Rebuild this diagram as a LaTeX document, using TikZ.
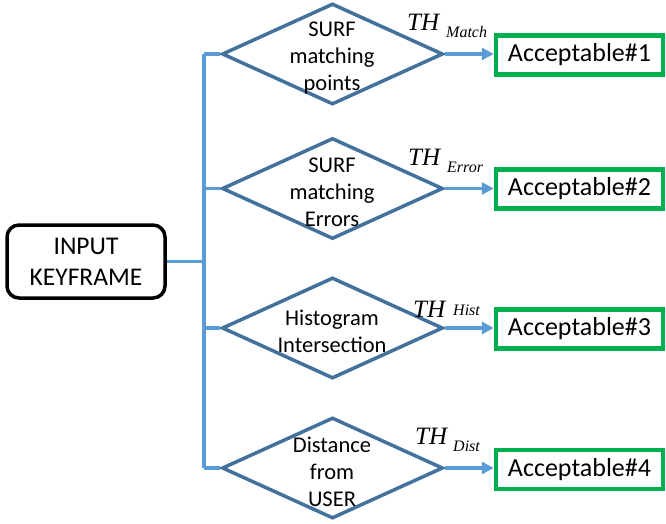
\documentclass[tikz,border=0pt]{standalone}
\usepackage{fontspec}
\setmainfont{Carlito}
\newfontfamily\thfont{Liberation Serif}
\usetikzlibrary{shapes.geometric,arrows.meta}
\definecolor{dblue}{HTML}{41719C}
\definecolor{cblue}{HTML}{5B9BD5}
\definecolor{agreen}{HTML}{00B050}
\tikzset{
  decision/.style={shape=diamond, draw=dblue, line width=3.5pt, inner sep=0pt,
    minimum width=221pt, minimum height=101pt},
  dtext/.style={align=center, inner sep=0pt, font=\fontsize{22.5}{27}\selectfont},
  inbox/.style={draw=black, line width=3.5pt, rounded corners=12pt,
    minimum width=158pt, minimum height=73pt, align=center, inner sep=0pt,
    font=\fontsize{25.5}{31}\selectfont},
  accbox/.style={draw=agreen, line width=4.5pt, minimum width=167pt,
    minimum height=39pt, inner sep=0pt, font=\fontsize{26}{30}\selectfont},
  conn/.style={draw=cblue, line width=3.2pt},
  arr/.style={draw=cblue, line width=3.2pt, -{Triangle[length=12pt,width=12pt]}},
  thmain/.style={anchor=base west, inner sep=0pt, font=\thfont\itshape\fontsize{25}{30}\selectfont},
  thsub/.style={anchor=base west, inner sep=0pt, font=\thfont\itshape\fontsize{16}{19}\selectfont}
}
\begin{document}
\begin{tikzpicture}[x=1pt,y=-1pt]
\useasboundingbox (0,0) rectangle (666,523);
% input
\node[inbox] (in) at (86,261.5) {INPUT\\KEYFRAME};
% decisions
\node[decision] (d1) at (332.5,54) {};
\node[decision] (d2) at (332.5,188.5) {};
\node[decision] (d3) at (332.5,328) {};
\node[decision] (d4) at (332.5,468) {};
\node[dtext] (t1) at (332,58) {SURF\\matching\\points};
\node[dtext] (t2) at (332,192) {SURF\\matching\\Errors};
\node[dtext] (t3) at (332,331) {Histogram\\Intersection};
\node[dtext] (t4) at (332,472) {Distance\\from\\USER};
% acceptable boxes
\node[accbox] (a1) at (579.5,55) {Acceptable\#1};
\node[accbox] (a2) at (579.5,189) {Acceptable\#2};
\node[accbox] (a3) at (579.5,329) {Acceptable\#3};
\node[accbox] (a4) at (579.5,469.5) {Acceptable\#4};
% thresholds
\node[thmain] (th1) at (407,30) {TH};
\node[thsub] (s1) at (446,37) {Match};
\node[thmain] (th2) at (408,165) {TH};
\node[thsub] (s2) at (447,172) {Error};
\node[thmain] (th3) at (413,317) {TH};
\node[thsub] (s3) at (453,315) {Hist};
\node[thmain] (th4) at (415,444) {TH};
\node[thsub] (s4) at (453,451) {Dist};
% trunk
\coordinate (j1) at (204,54);
\coordinate (j2) at (204,188.5);
\coordinate (j3) at (204,328);
\coordinate (j4) at (204,468);
\draw[conn] (j1) -- (j4);
\draw[conn] (in.east) -- (in.east -| j1);
\draw[conn] (j1) -- (d1.west);
\draw[conn] (j2) -- (d2.west);
\draw[conn] (j3) -- (d3.west);
\draw[conn] (j4) -- (d4.west);
\draw[arr] (d1.east) -- (d1.east -| a1.west);
\draw[arr] (d2.east) -- (d2.east -| a2.west);
\draw[arr] (d3.east) -- (d3.east -| a3.west);
\draw[arr] (d4.east) -- (d4.east -| a4.west);
\end{tikzpicture}
\end{document}
